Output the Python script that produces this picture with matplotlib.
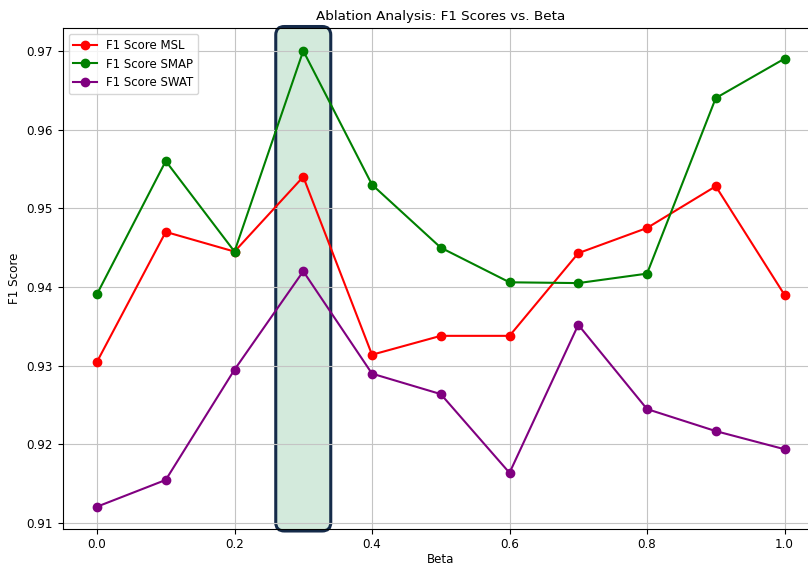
import matplotlib.pyplot as plt
import matplotlib.transforms as mtransforms
from matplotlib.patches import FancyBboxPatch

beta = [0.0, 0.1, 0.2, 0.3, 0.4, 0.5, 0.6, 0.7, 0.8, 0.9, 1.0]
f1_msl = [0.9305, 0.9470, 0.9445, 0.9540, 0.9314, 0.9338, 0.9338, 0.9443, 0.9475, 0.9528, 0.9390]
f1_smap = [0.9391, 0.9560, 0.9445, 0.9700, 0.9530, 0.9450, 0.9406, 0.9405, 0.9417, 0.9640, 0.9690]
f1_swat = [0.9121, 0.9155, 0.9295, 0.9420, 0.9290, 0.9264, 0.9164, 0.9352, 0.9245, 0.9217, 0.9194]

# highlighted beta range
hl_lo, hl_hi = 0.26, 0.34

fig = plt.figure(figsize=(8.08, 5.66), dpi=100)
ax = fig.add_axes([0.0775, 0.0645, 0.936, 0.886])

ax.plot(beta, f1_msl, marker='o', color='red', label='F1 Score MSL', lw=1.5, ms=6)
ax.plot(beta, f1_smap, marker='o', color='green', label='F1 Score SMAP', lw=1.5, ms=6)
ax.plot(beta, f1_swat, marker='o', color='purple', label='F1 Score SWAT', lw=1.5, ms=6)

ax.set_title('Ablation Analysis: F1 Scores vs. Beta', fontsize=9.7)
ax.set_xlabel('Beta', fontsize=8.6, labelpad=1.5)
ax.set_ylabel('F1 Score', fontsize=8.6)
ax.tick_params(labelsize=8.6)
ax.tick_params(axis='x', pad=2.5)
ax.grid(True, color='#c4c4c4')
ax.legend(loc='upper left', fontsize=8.5)

# rounded highlight box: x in data units, y in axes units
trans = mtransforms.blended_transform_factory(ax.transData, ax.transAxes)
box = FancyBboxPatch((hl_lo, -0.003), hl_hi - hl_lo, 1.006,
                     boxstyle='round,pad=0,rounding_size=0.0125',
                     mutation_aspect=1.35, transform=trans, clip_on=False,
                     facecolor='#d3eadc', edgecolor='#152b4a', lw=2.2, zorder=1)
ax.add_patch(box)

fig.savefig('out.png', dpi=100)
